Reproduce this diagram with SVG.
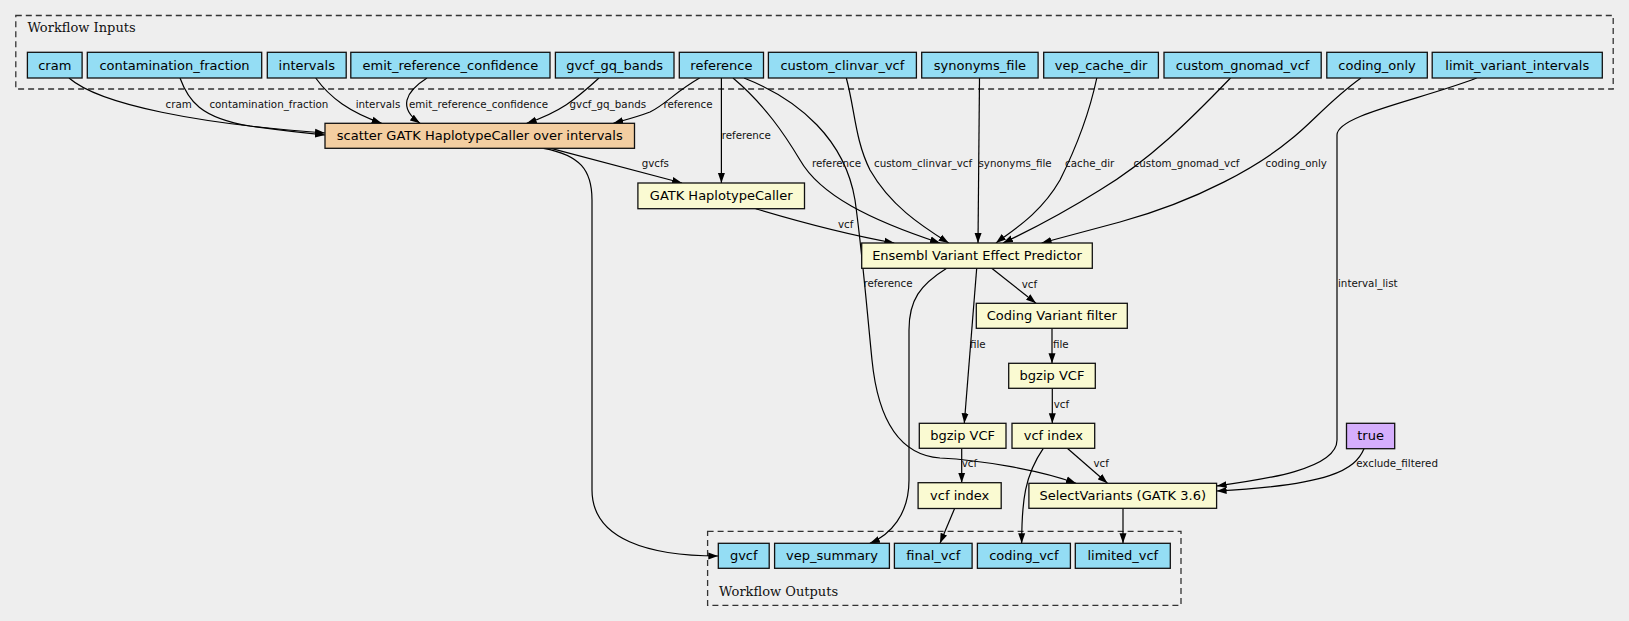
<svg xmlns="http://www.w3.org/2000/svg" width="1629" height="621" viewBox="0 0 1629 621">
<defs>
<style>
.bg{fill:#eeeeee}
.cl{fill:none;stroke:#333;stroke-width:1.3;stroke-dasharray:6,4}
.clt{font-family:"DejaVu Serif","Liberation Serif",serif;font-size:13px;fill:#111}
.in rect{fill:#94ddf4;stroke:#111;stroke-width:1.3}
.st rect{fill:#fafad2;stroke:#111;stroke-width:1.3}
.sc rect{fill:#f3cea1;stroke:#111;stroke-width:1.3}
.tr rect{fill:#d5aefc;stroke:#111;stroke-width:1.3}
.n text{font-family:"DejaVu Sans","Liberation Sans",sans-serif;font-size:13px;fill:#000;text-anchor:middle}
.e path{fill:none;stroke:#000;stroke-width:1.2;marker-end:url(#ah)}
.e text{font-family:"DejaVu Sans","Liberation Sans",sans-serif;font-size:10.3px;fill:#111}
</style>
<marker id="ah" markerWidth="10" markerHeight="8" refX="10" refY="4" orient="auto" markerUnits="userSpaceOnUse">
<path d="M0,0.5 L10,4 L0,7.5 z" fill="#000"/>
</marker>
</defs>
<rect class="bg" x="0" y="0" width="1629" height="621"/>

<g id="cluster_inputs">
<rect class="cl" x="15.8" y="15.5" width="1597.4" height="73.5"/>
<text class="clt" x="27.4" y="31.7">Workflow Inputs</text>
</g>
<g id="cluster_outputs">
<rect class="cl" x="707.6" y="531.3" width="473.4" height="74"/>
<text class="clt" x="719.1" y="595.7">Workflow Outputs</text>
</g>

<g id="connectors" class="e">
<path d="M69,78 C100,105 200,124 325,133"/>
<path d="M180,78 C188,100 200,118 250,126 C280,130 305,133 325,135"/>
<path d="M315.7,78 C330,98 350,112 381.7,123.3"/>
<path d="M427,78 C405,92 398,108 420,123.3"/>
<path d="M599,78 C575,100 560,112 526.7,123.3"/>
<path d="M699.6,78 C675,92 665,105 650,112 C637,117 625,120 613.3,123.3"/>
<path d="M721.4,78 L721.4,183"/>
<path d="M733,78 C765,105 785,135 800,160 C820,195 870,220 940,243"/>
<path d="M744,78 C800,100 845,140 855,200 C862,250 866,300 872,360 C878,420 900,455 940,458 C980,460 1040,470 1076,483.3"/>
<path d="M846.3,78 C855,110 855,140 870,170 C890,205 920,225 948.7,243"/>
<path d="M979.5,78 L978,243"/>
<path d="M1096.8,78 C1090,110 1080,140 1060,180 C1040,215 1010,232 996,243"/>
<path d="M1230.5,78 C1190,120 1150,160 1100,190 C1060,215 1020,235 1003,243"/>
<path d="M1361,78 C1330,100 1310,125 1290,140 C1260,165 1200,200 1120,222 C1090,230 1060,238 1041.6,243"/>
<path d="M1476.7,78 C1420,100 1337,115 1337,135 L1337,440 C1337,470 1260,480 1216.6,486"/>
<path d="M1364,448.7 C1355,470 1330,485 1216.6,491"/>
<path d="M543.5,148.3 C580,155 592,170 592,200 L592,490 C592,540 650,556 718.3,556"/>
<path d="M551,148.3 L682,183"/>
<path d="M755.7,208.7 C800,222 850,235 894.3,243"/>
<path d="M946.7,268.3 C920,285 909,300 909,330 L909,480 C909,515 890,535 869.9,543.3"/>
<path d="M976.7,268.3 L964.3,423.3"/>
<path d="M991.7,268.3 L1036,303.3"/>
<path d="M1052,328.3 L1052,363.3"/>
<path d="M1052.3,388.3 L1052.3,423.3"/>
<path d="M1067.3,448.3 L1107.5,483.3"/>
<path d="M1043.3,448.3 C1025,475 1021.7,500 1021.7,543.3"/>
<path d="M961.7,448.3 L961.7,482.7"/>
<path d="M954.5,508.7 L940,543.3"/>
<path d="M1123,508.3 L1123,543.3"/>
<text x="165.6" y="108">cram</text>
<text x="209.4" y="108">contamination_fraction</text>
<text x="355.7" y="108">intervals</text>
<text x="409" y="108">emit_reference_confidence</text>
<text x="569.5" y="108">gvcf_gq_bands</text>
<text x="663.4" y="108">reference</text>
<text x="721.7" y="138.5">reference</text>
<text x="641.7" y="167">gvcfs</text>
<text x="811.9" y="167">reference</text>
<text x="874" y="167">custom_clinvar_vcf</text>
<text x="978.5" y="167">synonyms_file</text>
<text x="1065" y="167">cache_dir</text>
<text x="1133.6" y="167">custom_gnomad_vcf</text>
<text x="1265.6" y="167">coding_only</text>
<text x="838" y="228">vcf</text>
<text x="863.4" y="287">reference</text>
<text x="1021.7" y="287.7">vcf</text>
<text x="1338" y="287">interval_list</text>
<text x="970" y="347.7">file</text>
<text x="1053" y="347.7">file</text>
<text x="1053.7" y="407.7">vcf</text>
<text x="1093.5" y="466.7">vcf</text>
<text x="1356.2" y="466.7">exclude_filtered</text>
<text x="961.7" y="466.7">vcf</text>
</g>

<g id="in_cram" class="n in"><rect x="27.4" y="52.3" width="54.7" height="25.7"/><text x="54.75" y="69.7">cram</text></g>
<g id="in_contamination_fraction" class="n in"><rect x="87.3" y="52.3" width="174.4" height="25.7"/><text x="174.5" y="69.7">contamination_fraction</text></g>
<g id="in_intervals" class="n in"><rect x="267.3" y="52.3" width="78.9" height="25.7"/><text x="306.75" y="69.7">intervals</text></g>
<g id="in_emit_reference_confidence" class="n in"><rect x="350.8" y="52.3" width="199.2" height="25.7"/><text x="450.4" y="69.7">emit_reference_confidence</text></g>
<g id="in_gvcf_gq_bands" class="n in"><rect x="555.4" y="52.3" width="118.6" height="25.7"/><text x="614.7" y="69.7">gvcf_gq_bands</text></g>
<g id="in_reference" class="n in"><rect x="679.3" y="52.3" width="84.2" height="25.7"/><text x="721.4" y="69.7">reference</text></g>
<g id="in_custom_clinvar_vcf" class="n in"><rect x="768.4" y="52.3" width="148" height="25.7"/><text x="842.4" y="69.7">custom_clinvar_vcf</text></g>
<g id="in_synonyms_file" class="n in"><rect x="921.7" y="52.3" width="116.4" height="25.7"/><text x="979.9" y="69.7">synonyms_file</text></g>
<g id="in_vep_cache_dir" class="n in"><rect x="1043.7" y="52.3" width="114.7" height="25.7"/><text x="1101.05" y="69.7">vep_cache_dir</text></g>
<g id="in_custom_gnomad_vcf" class="n in"><rect x="1164" y="52.3" width="157.2" height="25.7"/><text x="1242.6" y="69.7">custom_gnomad_vcf</text></g>
<g id="in_coding_only" class="n in"><rect x="1326.8" y="52.3" width="100.5" height="25.7"/><text x="1377.05" y="69.7">coding_only</text></g>
<g id="in_limit_variant_intervals" class="n in"><rect x="1432.2" y="52.3" width="170.1" height="25.7"/><text x="1517.25" y="69.7">limit_variant_intervals</text></g>

<g id="step_scatter" class="n sc"><rect x="325" y="123.3" width="309.5" height="25"/><text x="479.75" y="140.3">scatter GATK HaplotypeCaller over intervals</text></g>
<g id="step_haplotypecaller" class="n st"><rect x="637.9" y="183" width="166.6" height="25.7"/><text x="721.2" y="200.3">GATK HaplotypeCaller</text></g>
<g id="step_vep" class="n st"><rect x="861.7" y="243" width="230.6" height="25.3"/><text x="977" y="260.2">Ensembl Variant Effect Predictor</text></g>
<g id="step_coding_filter" class="n st"><rect x="976.3" y="303.3" width="151" height="25"/><text x="1051.8" y="320.3">Coding Variant filter</text></g>
<g id="step_bgzip_coding" class="n st"><rect x="1008.7" y="363.3" width="86.6" height="25"/><text x="1052" y="380.3">bgzip VCF</text></g>
<g id="step_index_coding" class="n st"><rect x="1012" y="423.3" width="82.7" height="25"/><text x="1053.35" y="440.3">vcf index</text></g>
<g id="step_bgzip_final" class="n st"><rect x="919.3" y="423.3" width="86.7" height="25"/><text x="962.65" y="440.3">bgzip VCF</text></g>
<g id="step_index_final" class="n st"><rect x="918.1" y="482.7" width="83.1" height="25.8"/><text x="959.65" y="500.1">vcf index</text></g>
<g id="step_selectvariants" class="n st"><rect x="1028.9" y="483.3" width="187.7" height="25"/><text x="1122.75" y="500.3">SelectVariants (GATK 3.6)</text></g>
<g id="const_true" class="n tr"><rect x="1346.5" y="423.3" width="48.2" height="25.4"/><text x="1370.6" y="440.4">true</text></g>

<g id="out_gvcf" class="n in"><rect x="718.3" y="543.3" width="50.9" height="25"/><text x="743.75" y="560.3">gvcf</text></g>
<g id="out_vep_summary" class="n in"><rect x="774.6" y="543.3" width="114.8" height="25"/><text x="832" y="560.3">vep_summary</text></g>
<g id="out_final_vcf" class="n in"><rect x="894.4" y="543.3" width="77.7" height="25"/><text x="933.25" y="560.3">final_vcf</text></g>
<g id="out_coding_vcf" class="n in"><rect x="977.4" y="543.3" width="93" height="25"/><text x="1023.9" y="560.3">coding_vcf</text></g>
<g id="out_limited_vcf" class="n in"><rect x="1075.3" y="543.3" width="95" height="25"/><text x="1122.8" y="560.3">limited_vcf</text></g>
</svg>
